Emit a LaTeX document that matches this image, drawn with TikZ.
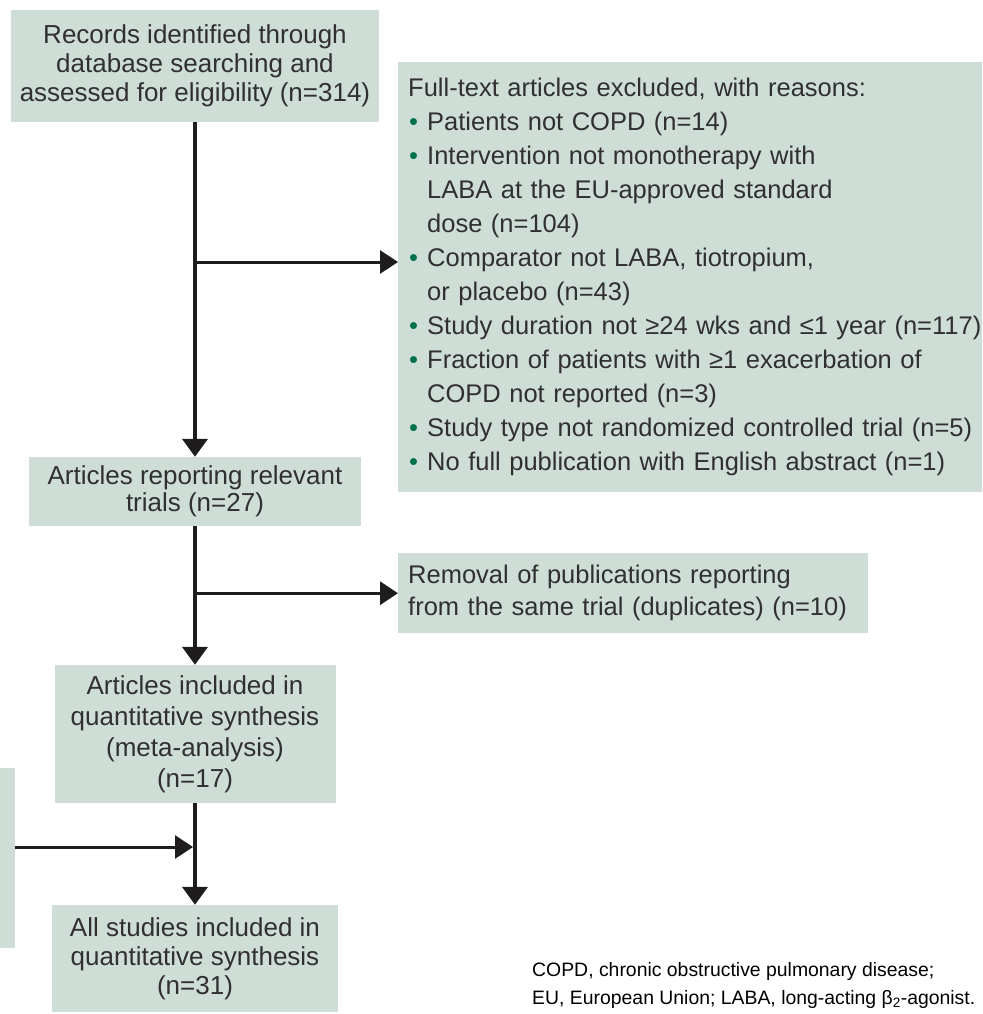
\documentclass[tikz,border=0pt]{standalone}
\usepackage{fontspec}
\setmainfont{Liberation Sans}
\usepackage{tikz}
\usetikzlibrary{arrows.meta,positioning}
\definecolor{boxsage}{RGB}{206,221,213}
\definecolor{inkgrey}{RGB}{48,48,48}
\definecolor{bulgreen}{RGB}{0,112,78}
\definecolor{arrowblack}{RGB}{30,28,29}
\newcommand{\exbul}{\makebox[19pt][l]{\hspace{1pt}\textcolor{bulgreen}{\textbullet}}}
\newcommand{\exind}{\hspace*{19pt}}
\tikzset{
  base/.style={font=\fontsize{26pt}{29pt}\selectfont, align=center, inner sep=0pt, text=inkgrey},
  box/.style={base, rectangle, fill=boxsage},
  listbox/.style={box, align=left, font=\fontsize{25.5pt}{34pt}\selectfont, inner xsep=10pt},
  arrv/.style={-{Triangle[length=18pt,width=25pt]}, line width=4pt, draw=arrowblack},
  arrh/.style={-{Triangle[length=18pt,width=23pt]}, line width=3pt, draw=arrowblack},
  foot/.style={font=\fontsize{19.4pt}{28pt}\selectfont, align=left, inner sep=0pt, text=black},
}
\begin{document}
\begin{tikzpicture}[x=1pt,y=-1pt]
  \clip (0,0) rectangle (982,1014);
  \node[box,minimum width=368pt,minimum height=112pt] (rec) at (195,66) {Records identified through\\database searching and\\assessed for eligibility (n=314)};
  \node[listbox,anchor=north west,text width=575pt,minimum height=430pt] (excl) at (398,62) {Full-text articles excluded, with reasons:\\
    \exbul Patients not COPD (n=14)\\
    \exbul Intervention not monotherapy with\\
    \exind LABA at the EU-approved standard\\
    \exind dose (n=104)\\
    \exbul Comparator not LABA, tiotropium,\\
    \exind or placebo (n=43)\\
    \exbul Study duration not ≥24 wks and ≤1 year (n=117)\\
    \exbul Fraction of patients with ≥1 exacerbation of\\
    \exind COPD not reported (n=3)\\
    \exbul Study type not randomized controlled trial (n=5)\\
    \exbul No full publication with English abstract (n=1)};
  \node[box,minimum width=332pt,minimum height=69pt,font=\fontsize{26pt}{27pt}\selectfont] (art) at (195,491.5) {Articles reporting relevant\\trials (n=27)};
  \node[listbox,anchor=north west,text width=450pt,minimum height=80pt,font=\fontsize{25.5pt}{32pt}\selectfont] (rem) at (398,553) {Removal of publications reporting\\from the same trial (duplicates) (n=10)};
  \node[box,minimum width=281pt,minimum height=138pt,font=\fontsize{26pt}{31pt}\selectfont] (incl) at (195,734) {Articles included in\\quantitative synthesis\\(meta-analysis)\\(n=17)};
  \node[box,minimum width=30pt,minimum height=180pt] (side) at (0,858) {};
  \node[box,minimum width=286pt,minimum height=107pt] (all) at (195,958.5) {All studies included in\\quantitative synthesis\\(n=31)};
  \node[foot,anchor=north west] (note) at (532,962) {COPD, chronic obstructive pulmonary disease;\\EU, European Union; LABA, long-acting β\textsubscript{2}-agonist.};
  % main column
  \foreach \a/\b in {rec/art,art/incl,incl/all}{\draw[arrv] (\a) -- (\b);}
  % side branches
  \coordinate (b1) at (195,262);
  \draw[arrh] (b1) -- (b1 -| excl.west);
  \draw[arrh] (art.south |- rem.west) -- (rem.west);
  \coordinate (b3) at (193,847);
  \draw[arrh] (b3 -| side.east) -- (b3);
\end{tikzpicture}
\end{document}
